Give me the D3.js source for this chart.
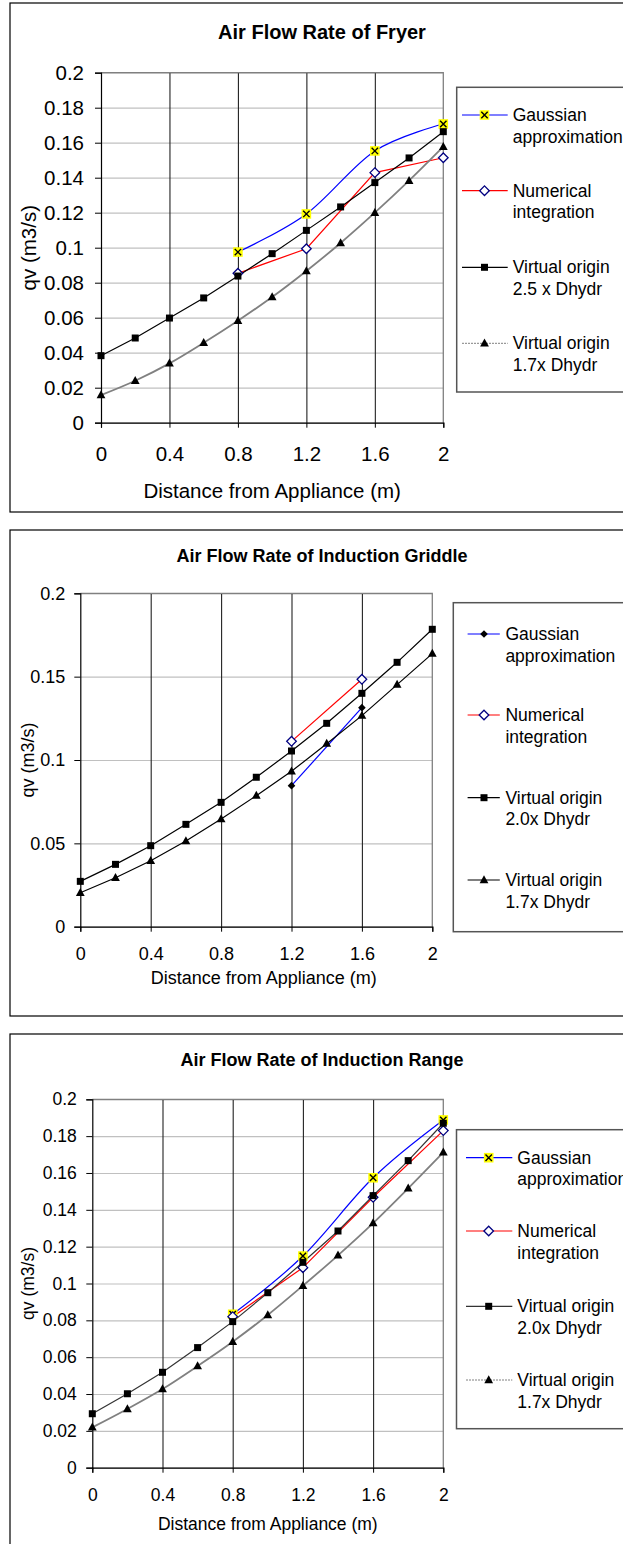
<!DOCTYPE html>
<html>
<head>
<meta charset="utf-8">
<script src="https://cdn.jsdelivr.net/npm/d3@7"></script>
<style>
  body { margin: 0; background: #fff; }
  svg { display: block; font-family: "Liberation Sans", Arial, sans-serif; }
</style>
</head>
<body>
<svg width="623" height="1544"></svg>
<script>
// distances from the appliance (m)
var distances = [0, 0.2, 0.4, 0.6, 0.8, 1.0, 1.2, 1.4, 1.6, 1.8, 2.0];
var measuredAt = [0.8, 1.2, 1.6, 2.0];
var griddleMeasuredAt = [1.2, 1.6];

// tick labels
var xTicks = [0, 0.4, 0.8, 1.2, 1.6, 2];
var yTicksFine = [0, 0.02, 0.04, 0.06, 0.08, 0.1, 0.12, 0.14, 0.16, 0.18, 0.2];
var yTicksCoarse = [0, 0.05, 0.1, 0.15, 0.2];

// fryer (m3/s)
var fryerGauss = [0.0975, 0.1193, 0.1553, 0.1707];
var fryerNumer = [0.0854, 0.0994, 0.1429, 0.1514];
var fryerVO25 = [0.0383, 0.0484, 0.0598, 0.0713, 0.0838, 0.0966, 0.1099, 0.1233, 0.1372, 0.1513, 0.1663];
var fryerVO17 = [0.0158, 0.0240, 0.0339, 0.0457, 0.0583, 0.0718, 0.0867, 0.1027, 0.1200, 0.1383, 0.1577];

// induction griddle
var griddleGauss = [0.0846, 0.1314];
var griddleNumer = [0.1112, 0.1484];
var griddleVO20 = [0.0272, 0.0374, 0.0486, 0.0614, 0.0746, 0.0896, 0.1054, 0.1220, 0.1400, 0.1586, 0.1784];
var griddleVO17 = [0.0204, 0.0294, 0.0396, 0.0514, 0.0646, 0.0786, 0.0932, 0.1098, 0.1266, 0.1452, 0.1638];

// induction range
var rangeGauss = [0.0833, 0.1149, 0.1574, 0.1888];
var rangeNumer = [0.0820, 0.1086, 0.1468, 0.1830];
var rangeVO20 = [0.0293, 0.0402, 0.0518, 0.0652, 0.0793, 0.0950, 0.1115, 0.1285, 0.1477, 0.1667, 0.1870];
var rangeVO17 = [0.0219, 0.0319, 0.0427, 0.0552, 0.0684, 0.0829, 0.0988, 0.1153, 0.1328, 0.1517, 0.1712];

function zip(xs, ys) {
  return xs.map(function(x, i) { return {x: x, y: ys[i]}; });
}

var smooth = d3.curveCardinal.tension(0);

// marker shapes, centred on (cx, cy)
function markerPath(type, cx, cy) {
  var p = d3.path();
  if (type == "square") {
    p.rect(cx - 3.5, cy - 3.5, 7, 7);
  } else if (type == "triangle") {
    p.moveTo(cx, cy - 4.8); p.lineTo(cx + 4.4, cy + 3.2); p.lineTo(cx - 4.4, cy + 3.2); p.closePath();
  } else if (type == "diamondOpen" || type == "diamondFill") {
    var r = type == "diamondOpen" ? 4.8 : 3.8;
    p.moveTo(cx, cy - r); p.lineTo(cx + r, cy); p.lineTo(cx, cy + r); p.lineTo(cx - r, cy); p.closePath();
  } else if (type == "xbox") {
    p.rect(cx - 4.8, cy - 4.8, 9.6, 9.6);
  }
  return p.toString();
}

function drawMarkers(g, type, pts) {
  var fill = type == "diamondOpen" ? "#fff" : (type == "xbox" ? "#ffff00" : "#000");
  g.append("g").selectAll("path")
    .data(pts)
    .join("path")
    .attr("d", function(d) { return markerPath(type, d.px, d.py); })
    .attr("fill", fill)
    .attr("stroke", type == "diamondOpen" ? "#000080" : "none")
    .attr("stroke-width", 1.3);
  if (type == "xbox") {
    g.append("g").selectAll("path")
      .data(pts)
      .join("path")
      .attr("d", function(d) {
        return "M" + (d.px - 3.2) + "," + (d.py - 3.2) + "L" + (d.px + 3.2) + "," + (d.py + 3.2) +
               "M" + (d.px + 3.2) + "," + (d.py - 3.2) + "L" + (d.px - 3.2) + "," + (d.py + 3.2);
      })
      .attr("stroke", "#000")
      .attr("stroke-width", 1.4);
  }
}

function drawChart(svg, c) {
  var g = svg.append("g");

  // outer frame
  g.append("rect")
    .attr("x", 10).attr("y", c.frameTop)
    .attr("width", 700).attr("height", c.frameBottom - c.frameTop)
    .attr("fill", "none").attr("stroke", "#000").attr("stroke-width", 1.2);

  g.append("text")
    .attr("x", 322).attr("y", c.titleY)
    .attr("text-anchor", "middle").attr("dominant-baseline", "central")
    .attr("font-weight", "bold").attr("font-size", c.titleSize)
    .text(c.title);

  var x = d3.scaleLinear().domain([0, 2]).range([c.left, c.right]);
  var y = d3.scaleLinear().domain([0, 0.2]).range([c.bottom, c.top]);

  // horizontal gridlines
  g.append("g")
    .attr("transform", "translate(" + c.left + ",0)")
    .call(d3.axisLeft(y).tickValues(c.yTicks).tickSize(-(c.right - c.left)).tickFormat(""))
    .call(function(a) {
      a.select(".domain").remove();
      a.selectAll("line").attr("stroke", "#c0c0c0").attr("stroke-width", 1.2);
    });

  // vertical gridlines
  g.append("g")
    .attr("transform", "translate(0," + c.bottom + ")")
    .call(d3.axisBottom(x).tickValues(xTicks.slice(1, -1)).tickSize(-(c.bottom - c.top)).tickFormat(""))
    .call(function(a) {
      a.select(".domain").remove();
      a.selectAll("line").attr("stroke", "#222").attr("stroke-width", 1.1);
    });

  // plot border (top and right)
  g.append("path")
    .attr("d", "M" + c.left + "," + c.top + "H" + c.right + "V" + c.bottom)
    .attr("fill", "none").attr("stroke", "#808080").attr("stroke-width", 1.3);

  // axes
  var yAxis = g.append("g")
    .attr("transform", "translate(" + c.left + ",0)")
    .call(d3.axisLeft(y).tickValues(c.yTicks).tickSize(6).tickPadding(c.yPad).tickFormat(String));
  var xAxis = g.append("g")
    .attr("transform", "translate(0," + c.bottom + ")")
    .call(d3.axisBottom(x).tickValues(xTicks).tickSize(5).tickPadding(c.xPad).tickFormat(String));
  [yAxis, xAxis].forEach(function(a) {
    a.attr("font-family", null).attr("font-size", c.tickSize);
    a.select(".domain").attr("stroke", "#000").attr("stroke-width", 1.2);
    a.selectAll("line").attr("stroke", "#000");
    a.selectAll("text").attr("fill", "#000");
  });

  g.append("text")
    .attr("x", (c.left + c.right) / 2 + c.xTitleShift).attr("y", c.xTitleY)
    .attr("text-anchor", "middle").attr("dominant-baseline", "central")
    .attr("font-size", c.axisTitleSize)
    .text("Distance from Appliance (m)");

  g.append("text")
    .attr("transform", "translate(" + c.yTitleX + "," + (c.top + c.bottom) / 2 + ") rotate(-90)")
    .attr("text-anchor", "middle").attr("dominant-baseline", "central")
    .attr("font-size", c.axisTitleSize)
    .text("qv (m3/s)");

  // series lines
  var plot = g.append("g");
  c.series.forEach(function(s) {
    s.pts.forEach(function(d) { d.px = x(d.x); d.py = y(d.y); });
    var line = d3.line().x(function(d) { return d.px; }).y(function(d) { return d.py; })
      .curve(s.smooth ? smooth : d3.curveLinear);
    plot.append("path")
      .datum(s.pts)
      .attr("d", line)
      .attr("fill", "none")
      .attr("stroke", s.color)
      .attr("stroke-width", s.width || 1.2);
  });
  c.series.forEach(function(s) { drawMarkers(plot, s.marker, s.pts); });

  // legend
  var lg = g.append("g");
  lg.append("rect")
    .attr("x", c.legend.x).attr("y", c.legend.top)
    .attr("width", 300).attr("height", c.legend.bottom - c.legend.top)
    .attr("fill", "#fff").attr("stroke", "#555").attr("stroke-width", 1.5);
  c.series.forEach(function(s, i) {
    var cy = c.legend.rows[i];
    lg.append("line")
      .attr("x1", c.legend.x1).attr("x2", c.legend.x2)
      .attr("y1", cy).attr("y2", cy)
      .attr("stroke", s.color).attr("stroke-width", s.legendWidth || 1.2)
      .attr("stroke-dasharray", s.legendDash || null);
    drawMarkers(lg, s.marker, [{px: c.legend.mx, py: cy}]);
    s.label.forEach(function(t, j) {
      lg.append("text")
        .attr("x", c.legend.tx).attr("y", cy + j * c.legend.gap)
        .attr("dominant-baseline", "central")
        .attr("font-size", c.legend.size)
        .text(t);
    });
  });
}

var svg = d3.select("svg");

drawChart(svg, {
  frameTop: 3, frameBottom: 512,
  title: "Air Flow Rate of Fryer", titleY: 31.7, titleSize: 20,
  left: 101, right: 443.3, top: 72.7, bottom: 422.7,
  yTicks: yTicksFine, tickSize: 20.5, yPad: 11, xPad: 19,
  axisTitleSize: 20.5, xTitleY: 490, xTitleShift: 0, yTitleX: 28.6,
  legend: {x: 456.7, top: 87.3, bottom: 392, x1: 462, x2: 507.7, mx: 484.5, tx: 512.7,
           rows: [115, 190.7, 267.3, 343.3], gap: 21.5, size: 17.5},
  series: [
    {label: ["Gaussian", "approximation"], pts: zip(measuredAt, fryerGauss), color: "#0000ff", marker: "xbox", smooth: true},
    {label: ["Numerical", "integration"], pts: zip(measuredAt, fryerNumer), color: "#ff0000", marker: "diamondOpen"},
    {label: ["Virtual origin", "2.5 x Dhydr"], pts: zip(distances, fryerVO25), color: "#000", marker: "square"},
    {label: ["Virtual origin", "1.7x Dhydr"], pts: zip(distances, fryerVO17), color: "#808080", marker: "triangle",
     smooth: true, width: 1.8, legendDash: "2,1", legendWidth: 1}
  ]
});

drawChart(svg, {
  frameTop: 530, frameBottom: 1016,
  title: "Air Flow Rate of Induction Griddle", titleY: 556, titleSize: 18,
  left: 80.3, right: 432.3, top: 593.3, bottom: 926.7,
  yTicks: yTicksCoarse, tickSize: 18, yPad: 9, xPad: 16,
  axisTitleSize: 18, xTitleY: 978.3, xTitleShift: 7.5, yTitleX: 27.8,
  legend: {x: 453.3, top: 602.7, bottom: 931.7, x1: 467.6, x2: 499.8, mx: 484, tx: 505.4,
           rows: [634, 715, 797.7, 880], gap: 21.7, size: 17.5},
  series: [
    {label: ["Gaussian", "approximation"], pts: zip(griddleMeasuredAt, griddleGauss), color: "#0000ff", marker: "diamondFill"},
    {label: ["Numerical", "integration"], pts: zip(griddleMeasuredAt, griddleNumer), color: "#ff0000", marker: "diamondOpen"},
    {label: ["Virtual origin", "2.0x Dhydr"], pts: zip(distances, griddleVO20), color: "#000", marker: "square"},
    {label: ["Virtual origin", "1.7x Dhydr"], pts: zip(distances, griddleVO17), color: "#000", marker: "triangle"}
  ]
});

drawChart(svg, {
  frameTop: 1034, frameBottom: 1560,
  title: "Air Flow Rate of Induction Range", titleY: 1060, titleSize: 18,
  left: 92.3, right: 443.3, top: 1099.3, bottom: 1467.7,
  yTicks: yTicksFine, tickSize: 17.5, yPad: 9.5, xPad: 16,
  axisTitleSize: 17.5, xTitleY: 1524.3, xTitleShift: 0, yTitleX: 27.8,
  legend: {x: 456.5, top: 1129.7, bottom: 1428.7, x1: 466, x2: 512.3, mx: 488.7, tx: 517.3,
           rows: [1157.7, 1231, 1306.3, 1380], gap: 21.5, size: 17.5},
  series: [
    {label: ["Gaussian", "approximation"], pts: zip(measuredAt, rangeGauss), color: "#0000ff", marker: "xbox", smooth: true},
    {label: ["Numerical", "integration"], pts: zip(measuredAt, rangeNumer), color: "#ff0000", marker: "diamondOpen"},
    {label: ["Virtual origin", "2.0x Dhydr"], pts: zip(distances, rangeVO20), color: "#333", marker: "square"},
    {label: ["Virtual origin", "1.7x Dhydr"], pts: zip(distances, rangeVO17), color: "#808080", marker: "triangle",
     smooth: true, width: 1.8, legendDash: "2,1", legendWidth: 1}
  ]
});
</script>
</body>
</html>
